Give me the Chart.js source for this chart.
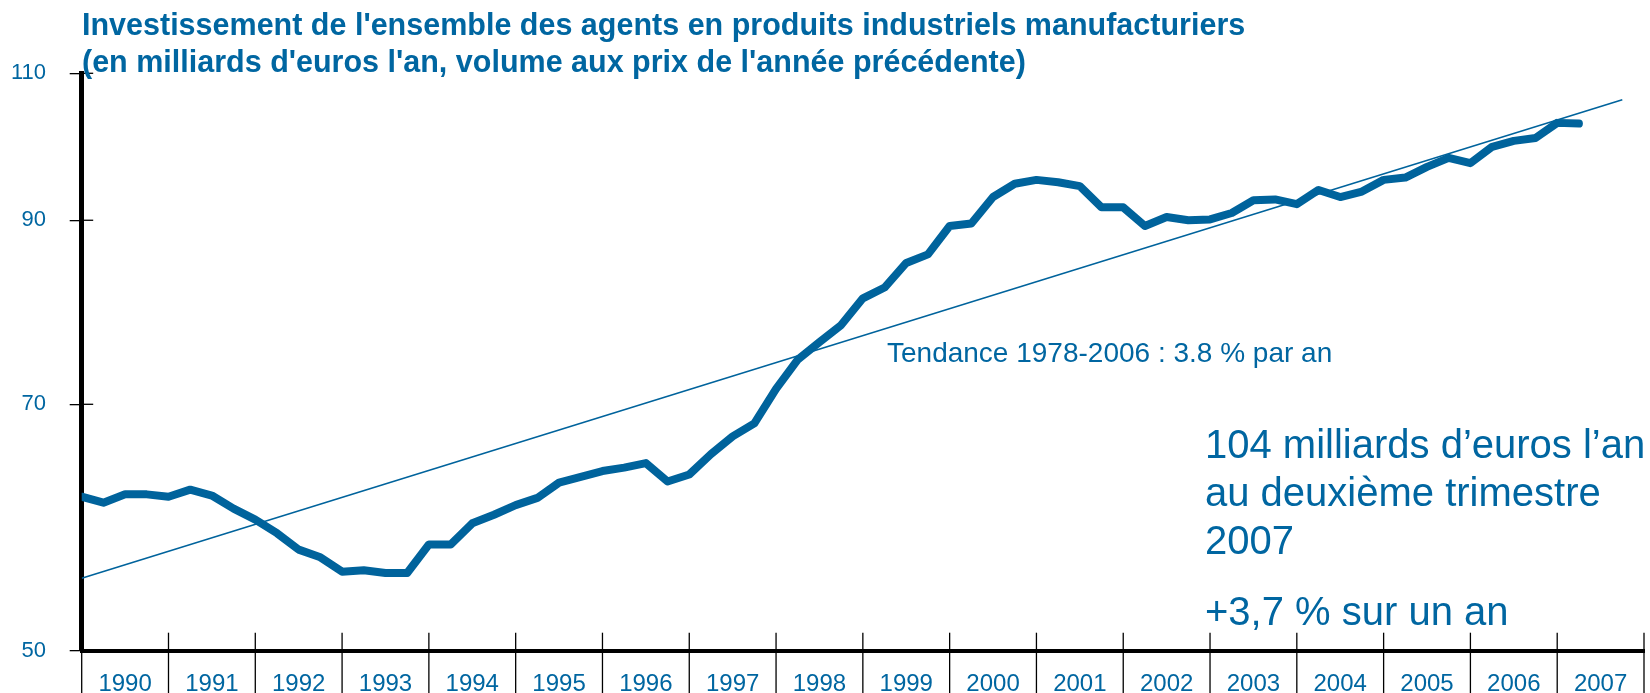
<!DOCTYPE html>
<html>
<head>
<meta charset="utf-8">
<script src="https://cdn.jsdelivr.net/npm/chart.js@4.4.1/dist/chart.umd.min.js"></script>
<style>
html,body{margin:0;padding:0;background:#fff;overflow:hidden}
canvas{display:block}
</style>
</head>
<body>
<canvas id="c" width="1650" height="693"></canvas>
<script>
// ---- data ----
const years = ['1990','1991','1992','1993','1994','1995','1996','1997','1998',
               '1999','2000','2001','2002','2003','2004','2005','2006','2007'];
// quarterly investment, 1990 Q1 .. 2007 Q2 (billions of euros per year)
const investValues = [
  61.7, 61.2, 61.9, 61.9,
  61.7, 62.3, 61.8, 60.7,
  59.8, 58.7, 57.4, 56.8,
  55.7, 55.8, 55.6, 55.6,
  57.8, 57.8, 59.5, 60.2,
  61.0, 61.6, 62.9, 63.4,
  63.9, 64.2, 64.6, 63.0,
  63.6, 65.4, 67.0, 68.2,
  71.5, 74.4, 76.2, 78.0,
  80.9, 82.1, 84.9, 85.9,
  89.3, 89.6, 92.9, 94.6,
  95.1, 94.8, 94.3, 91.6,
  91.6, 89.3, 90.4, 90.0,
  90.1, 90.9, 92.5, 92.6,
  92.0, 93.8, 92.9, 93.6,
  95.1, 95.4, 96.8, 98.0,
  97.3, 99.5, 100.3, 100.7,
  102.8, 102.7
];
// trend line end points (quarter index, value)
const trendQuarters = [0, 71];
const trendValues = [55.2, 106.1];
const yTickValues = [50, 70, 90, 110];
const titleLines = [
  "Investissement de l'ensemble des agents en produits industriels manufacturiers",
  "(en milliards d'euros l'an, volume aux prix de l'année précédente)"
];
const trendLabel = 'Tendance 1978-2006 : 3.8 % par an';
const noteLines = ['104 milliards d\u2019euros l\u2019an', 'au deuxi\u00e8me trimestre', '2007'];
const noteGrowth = '+3,7 % sur un an';

// ---- styling ----
const BLUE = '#0066a1';
const LINE_BLUE = '#00639c';
const FONT = '"Liberation Sans", Arial, Helvetica, sans-serif';

const decor = {
  id: 'decor',
  afterDraw(chart) {
    const ctx = chart.ctx, xs = chart.scales.xq, ys = chart.scales.y, ca = chart.chartArea;
    ctx.save();
    ctx.strokeStyle = '#000';
    ctx.lineWidth = 1.3;
    // year boundary marks (above and below the x axis)
    for (let q = 0; q <= 72; q += 4) {
      const x = xs.getPixelForValue(q);
      ctx.beginPath();
      ctx.moveTo(x, ca.bottom - 18);
      ctx.lineTo(x, chart.height);
      ctx.stroke();
    }
    // inner part of the y ticks
    yTickValues.forEach(v => {
      if (v === yTickValues[0]) return;
      const y = ys.getPixelForValue(v);
      ctx.beginPath();
      ctx.moveTo(ca.left, y);
      ctx.lineTo(ca.left + 11.5, y);
      ctx.stroke();
    });
    // texts
    ctx.fillStyle = BLUE;
    ctx.textAlign = 'left';
    ctx.textBaseline = 'alphabetic';
    ctx.font = 'bold 30.5px ' + FONT;
    ctx.fillText(titleLines[0], 82, 35);
    ctx.fillText(titleLines[1], 82, 72);
    ctx.font = '28px ' + FONT;
    ctx.fillText(trendLabel, 887, 362);
    ctx.font = '40px ' + FONT;
    ctx.fillText(noteLines[0], 1205, 458);
    ctx.fillText(noteLines[1], 1205, 506);
    ctx.fillText(noteLines[2], 1205, 554);
    ctx.fillText(noteGrowth, 1205, 625);
    ctx.restore();
  }
};

new Chart(document.getElementById('c'), {
  type: 'line',
  data: {
    datasets: [
      {
        label: 'Investissement',
        data: investValues.map((v, i) => ({ x: i, y: v })),
        xAxisID: 'xq', yAxisID: 'y',
        borderColor: LINE_BLUE, borderWidth: 8,
        borderJoinStyle: 'round', borderCapStyle: 'round',
        pointRadius: 0, tension: 0, fill: false, order: 1
      },
      {
        label: 'Tendance',
        data: trendQuarters.map((q, i) => ({ x: q, y: trendValues[i] })),
        xAxisID: 'xq', yAxisID: 'y',
        borderColor: LINE_BLUE, borderWidth: 1.6,
        pointRadius: 0, tension: 0, fill: false, order: 2
      }
    ]
  },
  options: {
    responsive: false,
    devicePixelRatio: 1,
    animation: false,
    layout: { padding: { left: 0, top: 73.3, right: 6, bottom: 0 } },
    plugins: { legend: { display: false }, tooltip: { enabled: false }, title: { display: false } },
    scales: {
      xq: { type: 'linear', min: 0, max: 72, display: false },
      x: {
        type: 'category', labels: years, offset: true, position: 'bottom',
        grid: { display: false, drawTicks: false },
        border: { display: true, color: '#000', width: 4 },
        ticks: { color: BLUE, font: { family: FONT, size: 24 }, padding: 19.5, maxRotation: 0, autoSkip: false },
        afterFit: s => { s.height = 42.3; }
      },
      y: {
        type: 'logarithmic', min: 50, max: 110, position: 'left',
        afterBuildTicks: s => { s.ticks = yTickValues.map(v => ({ value: v })); },
        ticks: { color: BLUE, font: { family: FONT, size: 22 }, padding: 23.7, callback: v => String(v) },
        grid: { drawOnChartArea: false, drawTicks: true, tickLength: 12, color: '#000', lineWidth: 1.3 },
        border: { display: true, color: '#000', width: 5 },
        afterFit: s => { s.width = 81.7; }
      }
    }
  },
  plugins: [decor]
});
</script>
</body>
</html>
